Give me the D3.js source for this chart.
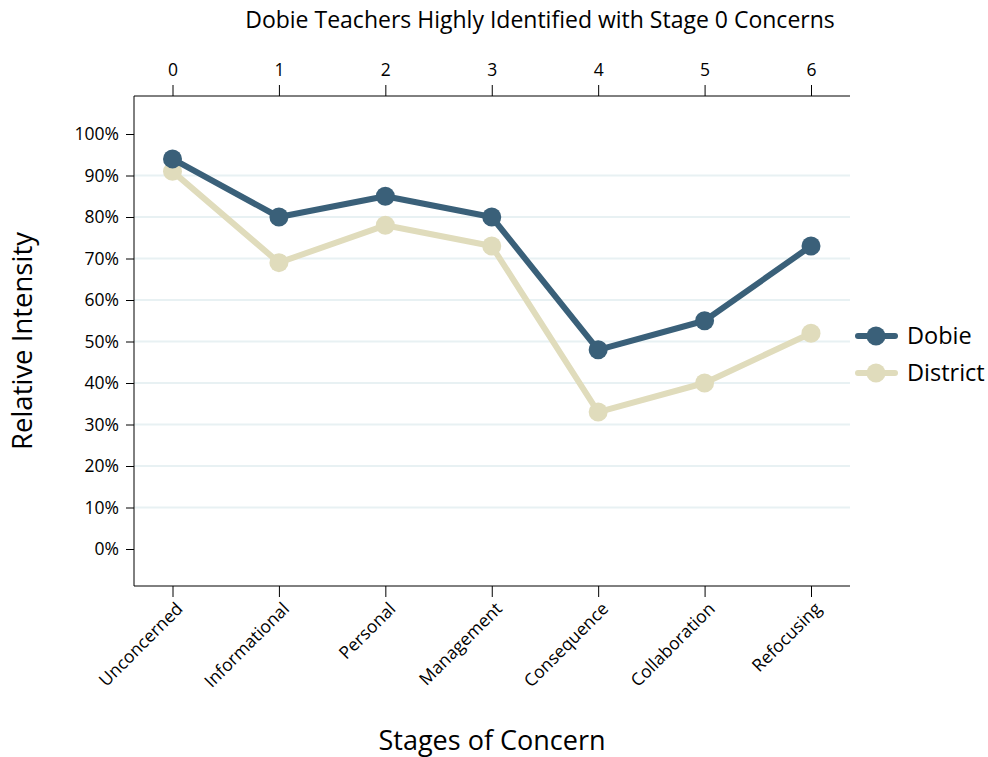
<!DOCTYPE html>
<html><head><meta charset="utf-8">
<script src="https://cdn.jsdelivr.net/npm/d3@7"></script>
<style>body{margin:0;background:#fff}svg{font-family:"Open Sans",sans-serif}</style>
</head><body><svg id="c" width="988" height="757"></svg>
<script>
const categories = ["Unconcerned","Informational","Personal","Management","Consequence","Collaboration","Refocusing"];
const stages = [0,1,2,3,4,5,6];
const dobie = [94,80,85,80,48,55,73];
const district = [91,69,78,73,33,40,52];
const yTicks = [0,10,20,30,40,50,60,70,80,90,100];
const seriesNames = ["Dobie","District"];
const colors = ["#3a6079","#e0dcbc"];

const svg = d3.select("#c");
const L=134, R=850, T=96, B=586;
const x = d3.scalePoint().domain(stages).range([172.5,811]);
const y = d3.scaleLinear().domain([0,100]).range([549,134]);

svg.append("g").selectAll("line").data(yTicks.filter(d=>d>0&&d<100)).join("line")
 .attr("x1",L).attr("x2",R).attr("y1",d=>y(d)).attr("y2",d=>y(d))
 .attr("stroke","#e8f1f3").attr("stroke-width",2);

const axStyle = g=>{g.attr("font-family","Open Sans").attr("font-size",17.5);g.select(".domain").remove();g.selectAll(".tick line").attr("stroke","#000");g.selectAll("text").attr("fill","#000");};

svg.append("g").attr("transform",`translate(${L},0)`).call(d3.axisLeft(y).tickValues(yTicks).tickFormat(d=>d+"%").tickSize(8).tickPadding(7)).call(axStyle);
svg.append("g").attr("transform",`translate(0,${T})`).call(d3.axisTop(x).tickSize(11).tickPadding(9)).call(axStyle);
const gb = svg.append("g").attr("transform",`translate(0,${B})`).call(d3.axisBottom(x).tickSize(11).tickFormat(i=>categories[i])).call(axStyle);
gb.selectAll("text").attr("text-anchor","end").attr("dy","0").attr("transform","translate(1,14) rotate(-45)");

svg.append("line").attr("x1",L).attr("x2",L).attr("y1",T).attr("y2",B).attr("stroke","#000");
svg.append("line").attr("x1",L).attr("x2",R).attr("y1",T).attr("y2",T).attr("stroke","#000");
svg.append("line").attr("x1",L).attr("x2",R).attr("y1",B).attr("y2",B).attr("stroke","#000");

const line = d3.line().x((d,i)=>x(stages[i])).y(d=>y(d));
[district,dobie].forEach((s,k)=>{
  const c = k===0?colors[1]:colors[0];
  svg.append("path").datum(s).attr("d",line).attr("fill","none").attr("stroke",c).attr("stroke-width",6).attr("stroke-linejoin","round");
  svg.append("g").selectAll("circle").data(s).join("circle").attr("cx",(d,i)=>x(stages[i])).attr("cy",d=>y(d)).attr("r",9.5).attr("fill",c);
});

[dobie,district].forEach((s,k)=>{
  const yy = 336 + k*37;
  svg.append("line").attr("x1",858).attr("x2",895).attr("y1",yy).attr("y2",yy).attr("stroke",colors[k]).attr("stroke-width",6).attr("stroke-linecap","round");
  svg.append("circle").attr("cx",876).attr("cy",yy).attr("r",9.5).attr("fill",colors[k]);
  svg.append("text").attr("x",907).attr("y",yy+8).text(seriesNames[k]).style("font-size","23.5px");
});

svg.append("text").attr("x",540).attr("y",28).attr("text-anchor","middle").style("font-size","23px").text("Dobie Teachers Highly Identified with Stage 0 Concerns");
svg.append("text").attr("x",492).attr("y",750).attr("text-anchor","middle").style("font-size","27px").text("Stages of Concern");
svg.append("text").attr("transform","translate(32,341) rotate(-90)").attr("text-anchor","middle").style("font-size","27.5px").text("Relative Intensity");
</script></body></html>
